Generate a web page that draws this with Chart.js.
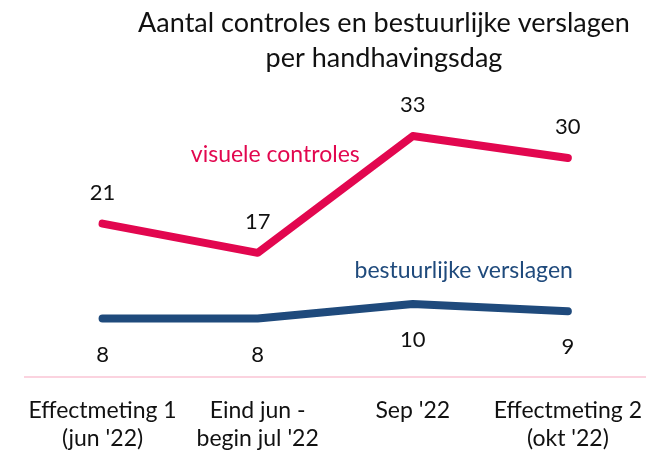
<!DOCTYPE html>
<html>
<head>
<meta charset="utf-8">
<script src="https://cdn.jsdelivr.net/npm/chart.js@4/dist/chart.umd.min.js"></script>
<style>
  html, body { margin: 0; padding: 0; background: #fff; overflow: hidden; }
  #wrap { width: 664px; height: 451px; overflow: hidden; }
</style>
</head>
<body>
<div id="wrap"><canvas id="chart" width="664" height="473"></canvas></div>
<script>
const categories = [
    ['Effectmeting 1', "(jun '22)"],
    ['Eind jun -', "begin jul '22"],
    ["Sep '22"],
    ['Effectmeting 2', "(okt '22)"],
];
const visueleControles = [21, 17, 33, 30];
const bestuurlijkeVerslagen = [8, 8, 10, 9];
const titleLines = ['Aantal controles en bestuurlijke verslagen', 'per handhavingsdag'];

const PINK = '#e2074f';
const BLUE = '#1f4a7c';
const FONT = 'Lato, "Open Sans", sans-serif';

const labelsPlugin = {
    id: 'labels',
    afterDatasetsDraw(chart) {
        const ctx = chart.ctx;
        const x = chart.scales.x, y = chart.scales.y;
        ctx.save();
        ctx.fillStyle = '#111';
        ctx.font = '22px ' + FONT;
        ctx.textAlign = 'center';
        ctx.textBaseline = 'middle';
        visueleControles.forEach((v, i) => {
            ctx.fillText(String(v), x.getPixelForValue(i), y.getPixelForValue(v) - 31);
        });
        bestuurlijkeVerslagen.forEach((v, i) => {
            ctx.fillText(String(v), x.getPixelForValue(i), y.getPixelForValue(v) + 36);
        });
        // series names next to the lines
        ctx.font = '23px ' + FONT;
        ctx.fillStyle = PINK;
        ctx.textAlign = 'right';
        ctx.fillText('visuele controles', x.getPixelForValue(2) - 53, 155);
        ctx.fillStyle = BLUE;
        ctx.fillText('bestuurlijke verslagen', x.getPixelForValue(3) + 5, y.getPixelForValue(14.5));
        // title
        ctx.fillStyle = '#111';
        ctx.textAlign = 'center';
        ctx.font = '27px ' + FONT;
        ctx.fillText(titleLines[0], 384, 23);
        ctx.fillText(titleLines[1], 384, 58);
        ctx.restore();
    },
};

new Chart(document.getElementById('chart'), {
    type: 'line',
    data: {
        labels: categories,
        datasets: [
            { label: 'visuele controles', data: visueleControles, borderColor: PINK,
              borderWidth: 8, borderCapStyle: 'round', borderJoinStyle: 'round', pointRadius: 0, tension: 0 },
            { label: 'bestuurlijke verslagen', data: bestuurlijkeVerslagen, borderColor: BLUE,
              borderWidth: 8, borderCapStyle: 'round', borderJoinStyle: 'round', pointRadius: 0, tension: 0 },
        ],
    },
    options: {
        responsive: false,
        animation: false,
        layout: { padding: { left: 25, right: 16, top: 85, bottom: 0 } },
        plugins: { legend: { display: false }, tooltip: { enabled: false } },
        scales: {
            x: {
                offset: true,
                grid: { display: false, drawTicks: false },
                border: { color: '#fbd3df', width: 2 },
                ticks: { color: '#111', font: { family: FONT, size: 23, lineHeight: 1.22 }, padding: 20, maxRotation: 0, autoSkip: false },
            },
            y: {
                display: false,
                min: 0,
                max: 40,
            },
        },
    },
    plugins: [labelsPlugin],
});
</script>
</body>
</html>
